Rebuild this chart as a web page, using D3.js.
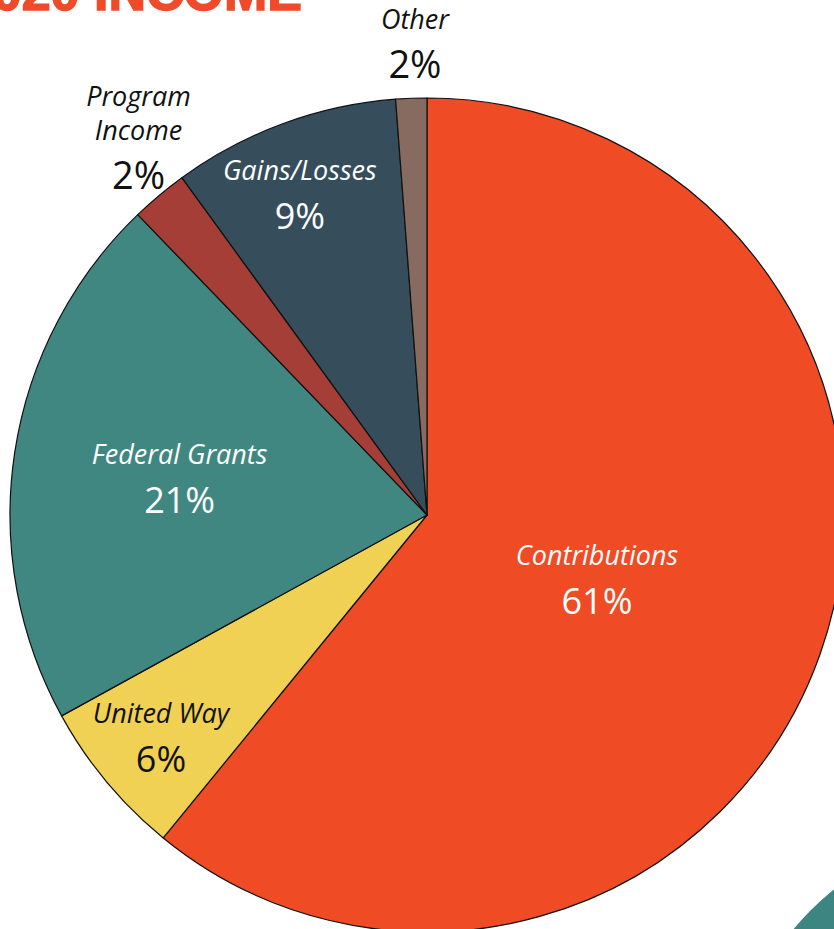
<!DOCTYPE html>
<html>
<head>
<meta charset="utf-8">
<script src="https://cdn.jsdelivr.net/npm/d3@7"></script>
<style>
  body { margin: 0; background: #fff; }
  svg { display: block; }
</style>
</head>
<body>
<div id="chart"></div>
<script>
// Define the data (clockwise from 12 o'clock)
const categories = ['Contributions', 'United Way', 'Federal Grants', 'Program Income', 'Gains/Losses', 'Other'];
const values = [60.9, 6.1, 20.8, 2.2, 8.8, 1.2];
const pctLabels = ['61%', '6%', '21%', '2%', '9%', '2%'];

const colors = ['#ef4b24', '#f0d153', '#418781', '#a53e37', '#364d5b', '#876a60'];
const textColors = ['#fff', '#111', '#fff', '#111', '#fff', '#111'];
// how far out each label sits (share of radius) and a small angle nudge (degrees)
const labelRadius = [0.435, 0.83, 0.6, 1.11, 0.83, 1.135];
const labelNudge = [0.8, 0, 0, 1.4, -1.4, 0.7];

const width = 834, height = 929;
const cx = 427, cy = 515, radius = 417;

const svg = d3.select("#chart")
    .append("svg")
    .attr("width", width)
    .attr("height", height);

// Title, mostly cut off at the top
svg.append("text")
    .attr("x", 302)
    .attr("y", 10)
    .attr("text-anchor", "end")
    .style("font-family", "'Liberation Sans', Arial, sans-serif")
    .style("font-weight", "900")
    .style("font-size", "52px")
    .style("fill", "#ef4b2b")
    .style("stroke", "#ef4b2b")
    .style("stroke-width", 1.5)
    .text("2020 INCOME");

// decorative teal circle bottom right
svg.append("circle")
    .attr("cx", 1000)
    .attr("cy", 1100)
    .attr("r", 268)
    .attr("fill", "#3d8580");

const data = categories.map((c, i) => ({ name: c, value: values[i], pct: pctLabels[i], i: i }));

const pie = d3.pie()
    .sort(null)
    .value(d => d.value);

const arc = d3.arc()
    .innerRadius(0)
    .outerRadius(radius);

const g = svg.append("g")
    .attr("transform", `translate(${cx},${cy})`);

const arcs = pie(data);

g.selectAll("path")
    .data(arcs)
    .enter()
    .append("path")
    .attr("d", arc)
    .attr("fill", d => colors[d.data.i])
    .attr("stroke", "#111")
    .attr("stroke-width", 1.2)
    .attr("stroke-linejoin", "round");

// Labels
const labels = g.selectAll(".label")
    .data(arcs)
    .enter()
    .append("g")
    .attr("class", "label")
    .attr("transform", d => {
        const r = radius * labelRadius[d.data.i];
        const a = (d.startAngle + d.endAngle) / 2 + labelNudge[d.data.i] * Math.PI / 180;
        return `translate(${r * Math.sin(a)},${-r * Math.cos(a)})`;
    });

labels.each(function(d) {
    const sel = d3.select(this);
    const outside = labelRadius[d.data.i] > 1;
    const lines = outside ? d.data.name.split(" ") : [d.data.name];
    const n = lines.length;
    lines.forEach((line, k) => {
        sel.append("text")
            .attr("text-anchor", "middle")
            .attr("y", -13 - (n - 1 - k) * 34)
            .style("font-family", "'Open Sans', sans-serif")
            .style("font-style", "italic")
            .style("font-size", "27px")
            .style("fill", textColors[d.data.i])
            .text(line);
    });
    sel.append("text")
        .attr("text-anchor", "middle")
        .attr("y", 36)
        .style("font-family", "'Open Sans', sans-serif")
        .style("font-size", outside ? "38px" : "36px")
        .style("fill", textColors[d.data.i])
        .text(d.data.pct);
});
</script>
</body>
</html>
